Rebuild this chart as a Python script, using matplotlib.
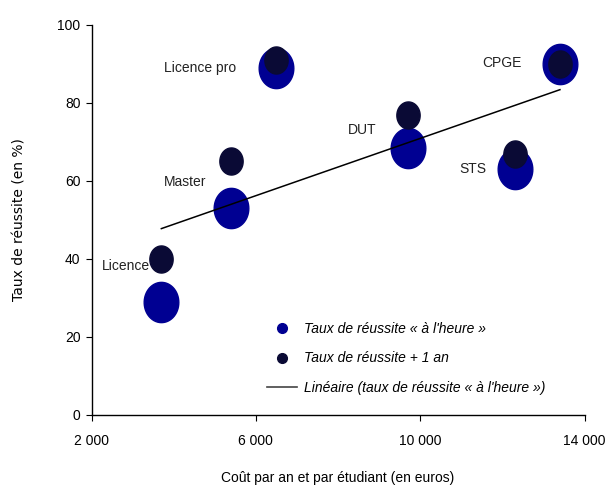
import numpy as np
import matplotlib
matplotlib.use("Agg")
import matplotlib.pyplot as plt
from matplotlib.path import Path
from matplotlib.lines import Line2D

# Données
formations = ["Licence", "Master", "Licence pro", "DUT", "STS", "CPGE"]
cout = [3700, 5400, 6500, 9700, 12300, 13400]
taux_heure = [29, 53, 89, 68.5, 63, 90]
taux_plus1 = [40, 65, 91, 77, 67, 90]

x_ticks = [2000, 6000, 10000, 14000]
x_tick_labels = ["2 000", "6 000", "10 000", "14 000"]
y_ticks = [0, 20, 40, 60, 80, 100]

# Positions des étiquettes (décalage en points par rapport au point bleu)
label_offsets = {
    "Licence": (-8, -5),   # relatif au point sombre
    "Master": (-33, 19),
    "Licence pro": (-55, 0),
    "DUT": (-33, 13),
    "STS": (-30, 0),
    "CPGE": (-42, 1),
}

bleu = "#000092"
sombre = "#0a0a35"

# marqueur elliptique (un peu plus haut que large)
t = np.linspace(0, 2 * np.pi, 60)
ellipse = Path(np.column_stack([0.43 * np.cos(t), 0.5 * np.sin(t)]), closed=True)

plt.rcParams["font.family"] = ["Liberation Sans", "DejaVu Sans"]

fig = plt.figure(figsize=(6.08, 4.88), dpi=100)
ax = fig.add_axes([0.1505, 0.1496, 0.811, 0.7992])

ax.scatter(cout, taux_heure, s=29 ** 2, marker=ellipse, color=bleu, zorder=2)
ax.scatter(cout, taux_plus1, s=19.5 ** 2, marker=ellipse, color=sombre, zorder=3)

# droite de régression (taux à l'heure)
a, b = np.polyfit(cout, taux_heure, 1)
xs = np.array([min(cout), max(cout)])
ax.plot(xs, a * xs + b, color="black", lw=1.1, zorder=4)

for nom, x, y, y1 in zip(formations, cout, taux_heure, taux_plus1):
    dx, dy = label_offsets[nom]
    if nom == "Licence":
        ax.annotate(nom, (x, y1), xytext=(dx, dy), textcoords="offset points",
                    ha="right", va="center", fontsize=10, color="#222222")
    else:
        ax.annotate(nom, (x, y), xytext=(dx, dy), textcoords="offset points",
                    ha="center", va="center", fontsize=10, color="#222222")

ax.set_xlim(2000, 14000)
ax.set_ylim(0, 100)
ax.set_xticks(x_ticks)
ax.set_xticklabels(x_tick_labels)
ax.set_yticks(y_ticks)
ax.tick_params(axis="x", length=4, pad=10, labelsize=10)
ax.tick_params(axis="y", length=4, pad=4, labelsize=10)
ax.spines["top"].set_visible(False)
ax.spines["right"].set_visible(False)
for s in ["left", "bottom"]:
    ax.spines[s].set_linewidth(1.0)

ax.set_xlabel("Coût par an et par étudiant (en euros)", fontsize=10, labelpad=16)
ax.set_ylabel("Taux de réussite (en %)", fontsize=10, labelpad=22,
              family=["DejaVu Sans"])

handles = [
    Line2D([], [], marker="o", ls="", color=bleu, markersize=7),
    Line2D([], [], marker="o", ls="", color=sombre, markersize=7),
    Line2D([], [], color="#444444", lw=1.2),
]
labels = ["Taux de réussite « à l'heure »", "Taux de réussite + 1 an",
          "Linéaire (taux de réussite « à l'heure »)"]
ax.legend(handles, labels, loc="lower left", bbox_to_anchor=(0.33, 0.02),
          frameon=False, prop={"style": "italic", "size": 10},
          labelspacing=1.1, handlelength=2.2, handletextpad=0.5)

fig.savefig("out.png", dpi=100)
